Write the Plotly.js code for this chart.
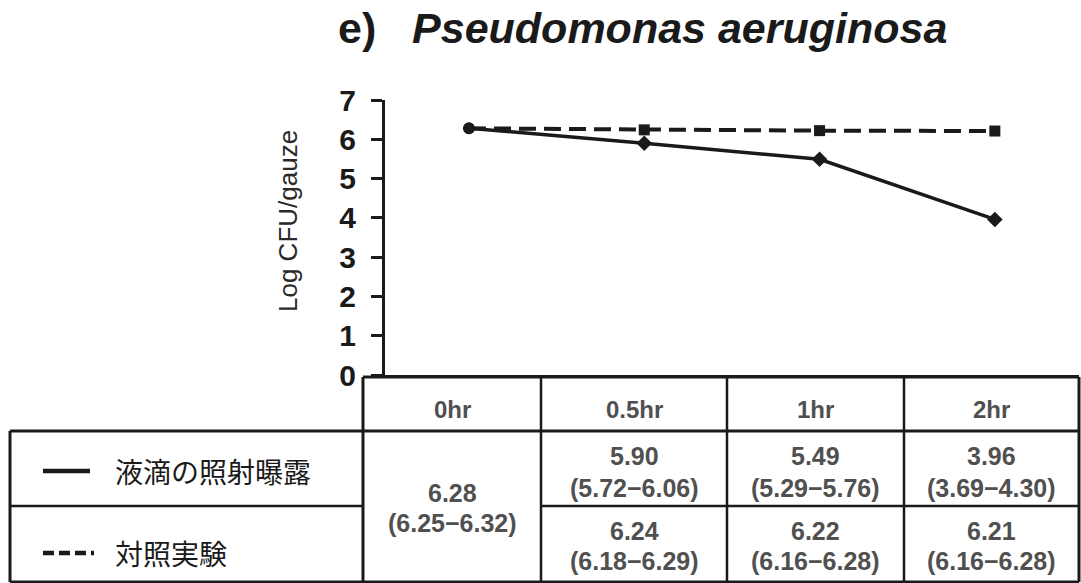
<!DOCTYPE html>
<html>
<head>
<meta charset="utf-8">
<script src="https://cdn.plot.ly/plotly-3.0.1.min.js"></script>
<style>
  html, body { margin: 0; padding: 0; background: #fff; }
  #chart { width: 1081px; height: 583px; }
</style>
</head>
<body>
<div id="chart"></div>
<script>
// ---- data ----
const timeLabels = ['0hr', '0.5hr', '1hr', '2hr'];
const exposureValues = [6.28, 5.90, 5.49, 3.96];
const controlValues = [6.28, 6.24, 6.22, 6.21];
const exposureRanges = ['(6.25\u22126.32)', '(5.72\u22126.06)', '(5.29\u22125.76)', '(3.69\u22124.30)'];
const controlRanges = ['(6.25\u22126.32)', '(6.18\u22126.29)', '(6.16\u22126.28)', '(6.16\u22126.28)'];
const seriesNames = ['液滴の照射曝露', '対照実験'];
const yTicks = [0, 1, 2, 3, 4, 5, 6, 7];
const titleText = 'e)\u00a0\u00a0\u00a0<i>Pseudomonas aeruginosa</i>';
const yTitle = 'Log CFU/gauze';

// ---- layout geometry (pixels) ----
const W = 1081, H = 583;
const PL = 385, PR = 1079, PT = 100, PB = 375;
const px = x => (x - PL) / (PR - PL);
const py = y => (PB - y) / (PB - PT);

const sans = 'Liberation Sans, Arial, Helvetica, sans-serif';
const cjk = 'Noto Sans CJK JP, sans-serif';
const ink = '#1a1a1a';
const cellInk = '#505050';

const colEdges = [363, 541, 727, 904, 1079];
const rowEdges = [377, 431, 506, 582];
const legendLeft = 10;

function line(x0, y0, x1, y1, w, dash) {
  return {type: 'line', xref: 'paper', yref: 'paper',
          x0: px(x0), y0: py(y0), x1: px(x1), y1: py(y1),
          line: {color: ink, width: w, dash: dash || 'solid'}};
}
function text(t, x, y, size, opts) {
  opts = opts || {};
  return Object.assign({xref: 'paper', yref: 'paper', x: px(x), y: py(y),
    text: t, showarrow: false, xanchor: 'center', yanchor: 'middle',
    font: {family: sans, size: size, color: cellInk, weight: 'bold'}}, opts);
}

const shapes = [];
// time table
shapes.push(line(colEdges[0], rowEdges[0], colEdges[4], rowEdges[0], 3));
shapes.push(line(legendLeft, rowEdges[1], colEdges[4], rowEdges[1], 3));
shapes.push(line(legendLeft, rowEdges[2], colEdges[0], rowEdges[2], 2.5));
shapes.push(line(colEdges[1], rowEdges[2], colEdges[4], rowEdges[2], 2.5));
shapes.push(line(legendLeft, rowEdges[3], colEdges[4], rowEdges[3], 3));
shapes.push(line(legendLeft, rowEdges[1], legendLeft, rowEdges[3], 3));
colEdges.forEach((cx, i) => shapes.push(line(cx, rowEdges[0], cx, rowEdges[3], i === 0 || i === 4 ? 3 : 2.5)));
// legend samples
shapes.push(line(43, 471, 90, 471, 4.5));
shapes.push(line(43, 553, 94, 553, 4.5, '11px,5px'));

const annotations = [];
const centers = [];
for (let i = 0; i < 4; i++) centers.push((colEdges[i] + colEdges[i + 1]) / 2);
timeLabels.forEach((t, i) => annotations.push(text(t, centers[i], 409, 24)));
// merged first column
annotations.push(text(exposureValues[0].toFixed(2), centers[0], 493, 25));
annotations.push(text(exposureRanges[0], centers[0], 523, 25));
for (let i = 1; i < 4; i++) {
  annotations.push(text(exposureValues[i].toFixed(2), centers[i], 456, 25));
  annotations.push(text(exposureRanges[i], centers[i], 488, 25));
  annotations.push(text(controlValues[i].toFixed(2), centers[i], 531, 25));
  annotations.push(text(controlRanges[i], centers[i], 561, 25));
}
// legend labels
annotations.push(text(seriesNames[0], 113, 471, 28, {xanchor: 'left', font: {family: cjk, size: 28, color: ink}}));
annotations.push(text(seriesNames[1], 113, 553, 28, {xanchor: 'left', font: {family: cjk, size: 28, color: ink}}));
// y-axis title
annotations.push(text(yTitle, 288, 221, 26, {textangle: -90, font: {family: sans, size: 26, color: '#2a2a2a'}}));

const traces = [
  {x: timeLabels, y: exposureValues, type: 'scatter', mode: 'lines+markers', name: seriesNames[0],
   line: {color: ink, width: 3.5},
   marker: {color: ink, size: 12, symbol: ['circle', 'diamond', 'diamond', 'diamond']}},
  {x: timeLabels, y: controlValues, type: 'scatter', mode: 'lines+markers', name: seriesNames[1],
   line: {color: ink, width: 4, dash: '17px,8px'},
   marker: {color: ink, size: 11, symbol: ['circle', 'square', 'square', 'square']}}
];

const layout = {
  width: W, height: H,
  paper_bgcolor: '#fff', plot_bgcolor: '#fff',
  margin: {l: PL, r: W - PR, t: PT, b: H - PB, autoexpand: false},
  showlegend: false,
  title: {text: '<b>' + titleText + '</b>', xref: 'container', yref: 'container',
          x: 338 / W, xanchor: 'left', y: 1 - 28 / H, yanchor: 'middle',
          font: {family: sans, size: 43, color: ink}},
  xaxis: {type: 'category', range: [-0.479, 3.48], showticklabels: false, ticks: '',
          showline: true, linewidth: 3, linecolor: ink, showgrid: false, zeroline: false, fixedrange: true},
  yaxis: {range: [0, 7], tickvals: yTicks, ticks: 'outside', ticklen: 11, tickwidth: 3, tickcolor: ink,
          showline: true, linewidth: 3, linecolor: ink, showgrid: false, zeroline: false,
          ticklabelstandoff: 9,
          tickfont: {family: sans, size: 30, color: ink, weight: 'bold'}},
  shapes: shapes,
  annotations: annotations
};

Plotly.newPlot('chart', traces, layout, {displayModeBar: false, staticPlot: true});
</script>
</body>
</html>
